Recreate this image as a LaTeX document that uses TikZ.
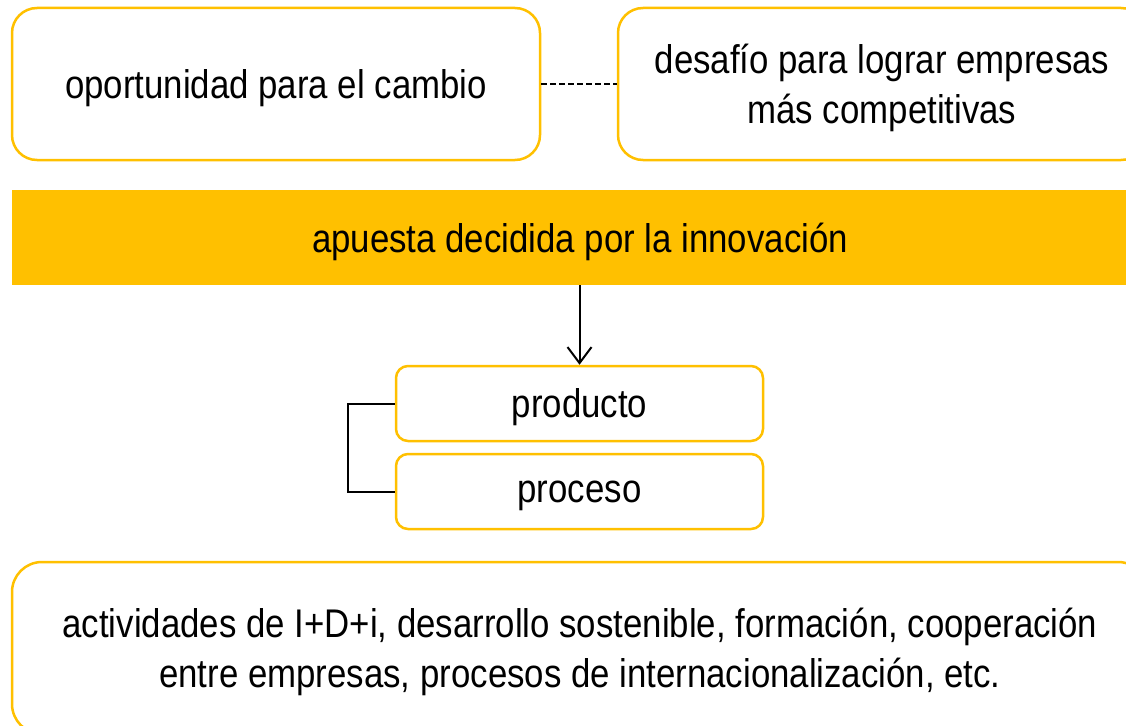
\documentclass[tikz,border=0pt]{standalone}
\usepackage{fontspec}
\setmainfont{Liberation Sans}[FakeStretch=0.87]
\usetikzlibrary{arrows.meta}
\definecolor{gold}{HTML}{FFC000}
\tikzset{
  x=1pt,y=-1pt,
  goldbox/.style={draw=gold, line width=2.5pt, fill=white, align=center, inner sep=0pt},
  bigtext/.style={font=\fontsize{40}{50}\selectfont, text depth=0pt},
  conn/.style={draw=black, line width=2pt},
}
\begin{document}
\begin{tikzpicture}
\useasboundingbox (0,0) rectangle (1126,725);
\clip (0,0) rectangle (1126,725);
\node[goldbox, bigtext, rounded corners=25pt, minimum width=528pt, minimum height=152pt] (opp) at (276,84) {oportunidad para el cambio};
\node[goldbox, bigtext, rounded corners=25pt, minimum width=528pt, minimum height=152pt] (des) at (882,84) {desafío para lograr empresas\\más competitivas};
\node[fill=gold, bigtext, inner sep=0pt, minimum width=1136pt, minimum height=95pt] (ban) at (580,237.5) {apuesta decidida por la innovación};
\node[goldbox, bigtext, rounded corners=12pt, minimum width=367pt, minimum height=75pt] (prod) at (579.5,403.5) {producto};
\node[goldbox, bigtext, rounded corners=12pt, minimum width=367pt, minimum height=75pt] (proc) at (579.5,491.5) {proceso};
\node[goldbox, bigtext, rounded corners=30pt, minimum width=1136pt, minimum height=172pt] (act) at (580,648) {actividades de I+D+i, desarrollo sostenible, formación, cooperación\\entre empresas, procesos de internacionalización, etc.};
\draw[black, line width=2pt, dash pattern=on 6pt off 3pt] (opp.east) -- (des.west);
\draw[conn, -{Straight Barb[length=16pt,width=24pt,line width=2pt]}] (ban.south -| prod.north) -- (prod.north);
\draw[conn] (prod.west) -- ++(-47,0) |- (proc.west);
\end{tikzpicture}
\end{document}
